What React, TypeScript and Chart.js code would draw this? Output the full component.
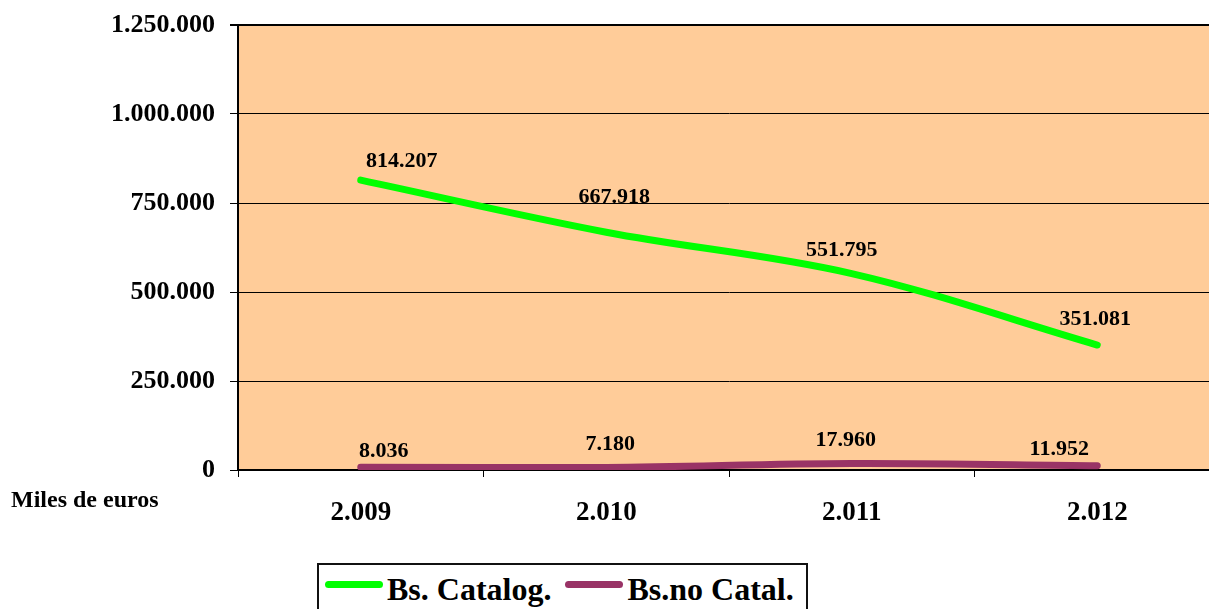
import React, { useEffect, useRef } from "react";
import { Chart, registerables } from "chart.js";

Chart.register(...registerables);

const categories = ["2.009", "2.010", "2.011", "2.012"];
const catalogValues = [814207, 667918, 551795, 351081];
const noCatalValues = [8036, 7180, 17960, 11952];
const yTickValues = [0, 250000, 500000, 750000, 1000000, 1250000];
const seriesNames = ["Bs. Catalog.", "Bs.no Catal."];
const seriesColors = ["#00FF00", "#993366"];
const unitLabel = "Miles de euros";

// label nudges (relative to each point), as in the reference layout
const catalogLabelNudge = [[41, -21], [8, -37], [-10, -26], [-2, -28]];
const noCatalLabelNudge = [[23, -18], [4, -25], [-6, -26], [-38, -19]];

const FONT = "'Liberation Serif', 'Times New Roman', serif";

const fmt = (v: number) =>
  String(Math.round(v)).replace(/\B(?=(\d{3})+(?!\d))/g, ".");

const bgPlugin = {
  id: "peachBg",
  beforeDraw(chart: any) {
    const { ctx, chartArea } = chart;
    ctx.save();
    ctx.fillStyle = "#FFCC99";
    ctx.fillRect(chartArea.left, chartArea.top, chartArea.right - chartArea.left, chartArea.bottom - chartArea.top);
    ctx.restore();
  },
};

const labelsPlugin = {
  id: "valueLabels",
  afterDatasetsDraw(chart: any) {
    const { ctx } = chart;
    const nudges = [catalogLabelNudge, noCatalLabelNudge];
    ctx.save();
    ctx.font = `bold 22px ${FONT}`;
    ctx.fillStyle = "#000";
    ctx.textAlign = "center";
    ctx.textBaseline = "alphabetic";
    chart.data.datasets.forEach((ds: any, di: number) => {
      const meta = chart.getDatasetMeta(di);
      meta.data.forEach((pt: any, i: number) => {
        const [dx, dy] = nudges[di][i];
        ctx.fillText(fmt(ds.data[i]), pt.x + dx, pt.y + dy + 8);
      });
    });
    ctx.restore();
  },
  afterDraw(chart: any) {
    const { ctx } = chart;
    ctx.save();
    ctx.font = `bold 24px ${FONT}`;
    ctx.fillStyle = "#000";
    ctx.textAlign = "left";
    ctx.textBaseline = "alphabetic";
    ctx.fillText(unitLabel, 11, 507);
    ctx.restore();
  },
};

export default function App() {
  const ref = useRef<HTMLCanvasElement | null>(null);

  useEffect(() => {
    if (!ref.current) return;
    const chart = new Chart(ref.current, {
      type: "line",
      data: {
        labels: categories,
        datasets: [
          {
            label: seriesNames[0],
            data: catalogValues,
            borderColor: seriesColors[0],
            backgroundColor: seriesColors[0],
            borderWidth: 7,
            borderCapStyle: "round",
            borderJoinStyle: "round",
            tension: 0.35,
            pointRadius: 0,
            fill: false,
          },
          {
            label: seriesNames[1],
            data: noCatalValues,
            borderColor: seriesColors[1],
            backgroundColor: seriesColors[1],
            borderWidth: 7,
            borderCapStyle: "round",
            borderJoinStyle: "round",
            tension: 0.35,
            pointRadius: 0,
            fill: false,
          },
        ],
      },
      options: {
        responsive: false,
        animation: false,
        layout: { padding: { top: 25, left: 0, right: 0, bottom: 0 } },
        plugins: {
          legend: { display: false },
          tooltip: { enabled: false },
        },
        scales: {
          x: {
            type: "category",
            offset: true,
            grid: {
              offset: true,
              drawOnChartArea: false,
              drawTicks: true,
              tickLength: 7,
              color: "#000",
              lineWidth: 1,
            },
            border: { display: true, color: "#000", width: 2 },
            ticks: {
              color: "#000",
              padding: 20,
              maxRotation: 0,
              font: { family: FONT, size: 27, weight: "bold" },
            },
            afterFit(scale: any) {
              scale.height = 139;
              scale.paddingLeft = 0;
              scale.paddingRight = 0;
            },
          },
          y: {
            min: 0,
            max: 1250000,
            afterBuildTicks(scale: any) {
              scale.ticks = yTickValues.map((v) => ({ value: v }));
            },
            grid: {
              color: "#000",
              lineWidth: (c: any) => (c.tick && c.tick.value === 1250000 ? 2 : 1),
              tickLength: 8,
            },
            border: { display: true, color: "#000", width: 2 },
            ticks: {
              color: "#000",
              padding: 15,
              font: { family: FONT, size: 26, weight: "bold" },
              callback: (v: any) => fmt(Number(v)),
            },
            afterFit(scale: any) {
              scale.width = 238;
              scale.paddingTop = 0;
              scale.paddingBottom = 0;
            },
          },
        },
      },
      plugins: [bgPlugin, labelsPlugin],
    } as any);
    return () => chart.destroy();
  }, []);

  const legendText: React.CSSProperties = {
    font: `bold 32px ${FONT}`,
    lineHeight: "32px",
    color: "#000",
    marginTop: 8,
    whiteSpace: "nowrap",
  };
  const swatch = (c: string): React.CSSProperties => ({
    width: 58,
    height: 7,
    borderRadius: 4,
    background: c,
    marginTop: 16,
    marginRight: 4,
    flex: "0 0 auto",
  });

  return (
    <div
      style={{
        position: "fixed",
        left: 0,
        top: 0,
        width: 1209,
        height: 609,
        overflow: "hidden",
        background: "#fff",
      }}
    >
      <canvas
        ref={ref}
        width={1220}
        height={609}
        style={{ position: "absolute", left: 0, top: 0, width: 1220, height: 609 }}
      />
      <div
        style={{
          position: "absolute",
          left: 317,
          top: 563,
          width: 491,
          height: 60,
          boxSizing: "border-box",
          border: "2px solid #111",
          background: "#fff",
          display: "flex",
          alignItems: "flex-start",
          paddingLeft: 6,
        }}
      >
        <span style={swatch(seriesColors[0])} />
        <span style={{ ...legendText, marginRight: 14 }}>{seriesNames[0]}</span>
        <span style={swatch(seriesColors[1])} />
        <span style={legendText}>{seriesNames[1]}</span>
      </div>
    </div>
  );
}
